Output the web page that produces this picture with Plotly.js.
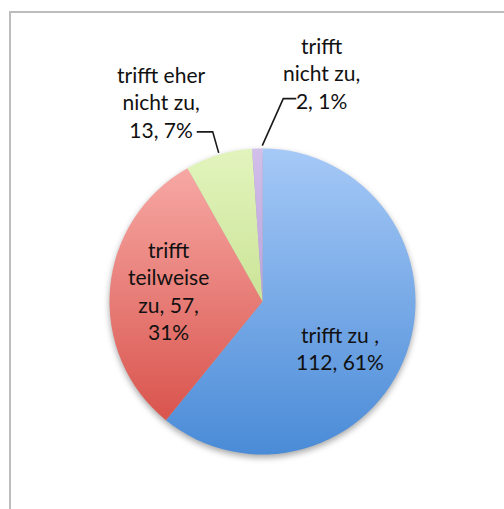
<!DOCTYPE html>
<html>
<head>
<meta charset="utf-8">
<script src="https://cdn.plot.ly/plotly-3.0.1.min.js"></script>
<style>
  html, body { margin: 0; padding: 0; background: #ffffff; overflow: hidden; }
  #frame { position: absolute; left: 9px; top: 11px; width: 600px; height: 600px;
           border-left: 2px solid #bdbdbd; border-top: 2px solid #bdbdbd; }
  #chart { position: absolute; left: 0; top: 0; width: 504px; height: 509px; }
</style>
</head>
<body>
<div id="frame"></div>
<div id="chart"></div>
<script>
// ---- data ----
var labels = ["trifft zu", "trifft teilweise zu", "trifft eher nicht zu", "trifft nicht zu"];
var values = [112, 57, 13, 2];
var percents = ["61%", "31%", "7%", "1%"];
var labelTexts = [
  "trifft zu ,<br>112, 61%",
  "trifft<br>teilweise<br>zu, 57,<br>31%",
  "trifft eher<br>nicht zu,<br>13, 7%",
  "trifft<br>nicht zu,<br>2, 1%"
];
var colors = ["#72a7ea", "#ea7f79", "#d5eca4", "#c7b2e2"];
var gradTop = ["#a6c9f7", "#f7a8a4", "#e2f4bd", "#d2bfea"];
var gradBottom = ["#4a8bd7", "#d9544d", "#cbe497", "#b9a1db"];

// ---- layout constants ----
var W = 504, H = 509;
var cx = 262.5, cy = 301.5, R = 153;
var font = "Lato, 'Open Sans', sans-serif";
var fs = 21;
var txtColor = "#111111";

var trace = {
  type: "pie",
  labels: labels,
  values: values,
  textinfo: "none",
  sort: false,
  direction: "clockwise",
  rotation: 0,
  marker: { colors: colors, line: { width: 0 } },
  hoverinfo: "label+value+percent",
  domain: { x: [(cx - R) / W, (cx + R) / W], y: [(H - cy - R) / H, (H - cy + R) / H] },
  showlegend: false
};

// slice geometry computed from the data
var total = values.reduce(function (a, b) { return a + b; }, 0);
function midAngle(i) {
  var before = 0;
  for (var k = 0; k < i; k++) before += values[k];
  return (before + values[i] / 2) / total * 2 * Math.PI;
}
function polar(i, r) {
  var a = midAngle(i);
  return { x: cx + r * Math.sin(a), y: cy - r * Math.cos(a) };
}
function px(x) { return x / W; }
function py(y) { return 1 - y / H; }

var pG = polar(2, R);
var pP = polar(3, R);
pG = { x: pG.x, y: pG.y - 2 };
pP = { x: pP.x + 5, y: pP.y - 3 };
var gElbow = { x: pG.x - 6, y: pG.y - 21 };
var gEnd = { x: gElbow.x - 16, y: gElbow.y };
var pElbow = { x: pP.x + 21, y: pP.y - 47 };
var pEnd = { x: pElbow.x + 13, y: pElbow.y };

function pathOf(pts) {
  return "M" + pts.map(function (p) { return px(p.x) + "," + py(p.y); }).join(" L");
}

var shapes = [
  { type: "path", xref: "paper", yref: "paper", path: pathOf([pG, gElbow, gEnd]),
    line: { color: "#1a1a1a", width: 1.6 } },
  { type: "path", xref: "paper", yref: "paper", path: pathOf([pP, pElbow, pEnd]),
    line: { color: "#1a1a1a", width: 1.6 } }
];

// inside label anchors: midpoint of slice at a fraction of the radius, nudged like the original
var pB = polar(0, 0.6 * R);
pB = { x: pB.x - 9, y: pB.y + 16 };
var pR = polar(1, 0.62 * R);
pR = { x: pR.x + 1, y: pR.y - 3 };

var lh = fs * 1.3;
function ann(x, y, txt, yanchor) {
  return { xref: "paper", yref: "paper", x: px(x), y: py(y), xanchor: "center", yanchor: yanchor,
    text: txt, showarrow: false, align: "center",
    font: { family: font, size: fs, color: txtColor } };
}
var annotations = [
  ann(pB.x, pB.y, labelTexts[0], "middle"),
  ann(pR.x, pR.y, labelTexts[1], "middle"),
  ann(gEnd.x - 36, gEnd.y + lh / 2 - 2, labelTexts[2], "bottom"),
  ann(pEnd.x + 25, pEnd.y + lh / 2 + 3, labelTexts[3], "bottom")
];

var layout = {
  width: W, height: H,
  margin: { l: 0, r: 0, t: 0, b: 0 },
  paper_bgcolor: "rgba(0,0,0,0)",
  plot_bgcolor: "rgba(0,0,0,0)",
  shapes: shapes,
  annotations: annotations,
  font: { family: font }
};

Plotly.newPlot("chart", [trace], layout, { displayModeBar: false, staticPlot: true }).then(function (gd) {
  // vertical gradient fill per slice, plus soft shadow, like the original
  var svg = gd.querySelector(".main-svg");
  var ns = "http://www.w3.org/2000/svg";
  var defs = svg.querySelector("defs") || svg.insertBefore(document.createElementNS(ns, "defs"), svg.firstChild);
  gradTop.forEach(function (c, i) {
    var lg = document.createElementNS(ns, "linearGradient");
    lg.setAttribute("id", "sliceGrad" + i);
    lg.setAttribute("x1", "0"); lg.setAttribute("y1", "0");
    lg.setAttribute("x2", "0"); lg.setAttribute("y2", "1");
    var s1 = document.createElementNS(ns, "stop");
    s1.setAttribute("offset", "0"); s1.setAttribute("stop-color", c);
    var s2 = document.createElementNS(ns, "stop");
    s2.setAttribute("offset", "1"); s2.setAttribute("stop-color", gradBottom[i]);
    lg.appendChild(s1); lg.appendChild(s2);
    defs.appendChild(lg);
  });
  var slices = gd.querySelectorAll("g.slice");
  slices.forEach(function (s, i) {
    var p = s.querySelector("path.surface");
    if (p) p.style.fill = "url(#sliceGrad" + i + ")";
  });
  var pl = gd.querySelector(".pielayer");
  if (pl) pl.style.filter = "drop-shadow(0px 3px 3px rgba(0,0,0,0.35))";
});
</script>
</body>
</html>
